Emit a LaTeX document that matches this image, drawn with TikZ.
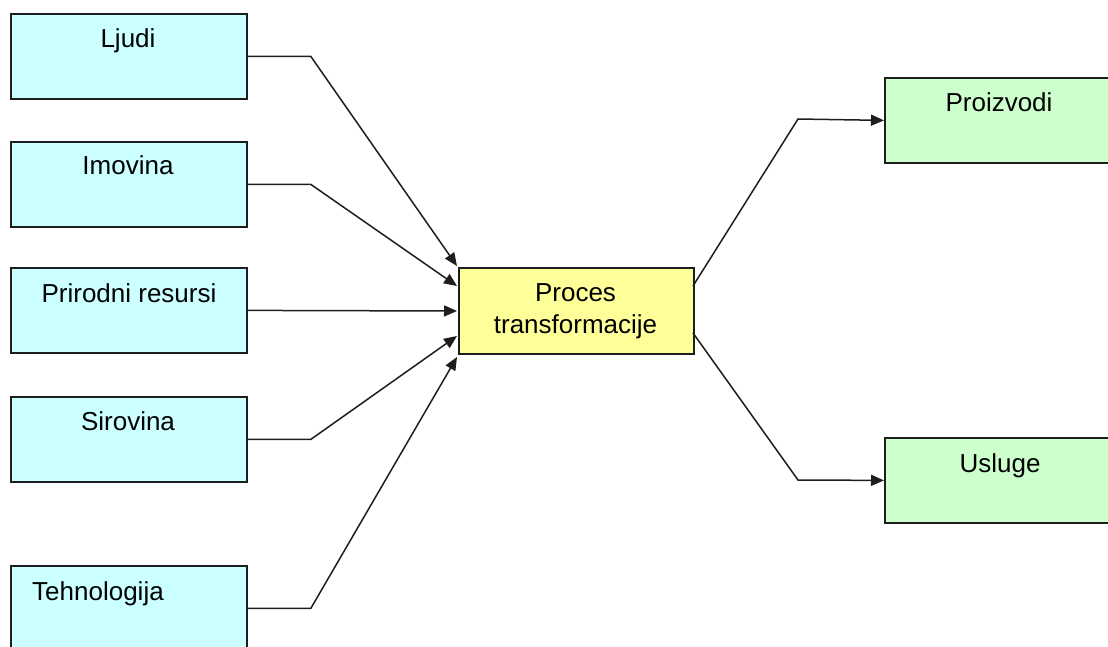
\documentclass[tikz,border=0pt]{standalone}
\usepackage{fontspec}
\setmainfont{Liberation Sans}
\usetikzlibrary{arrows.meta}
\definecolor{incol}{HTML}{CCFFFF}
\definecolor{proccol}{HTML}{FFFF99}
\definecolor{outcol}{HTML}{CCFFCC}
\definecolor{edgecol}{HTML}{1E1E1E}
\begin{document}
\begin{tikzpicture}[x=1pt,y=-1pt,
  box/.style={draw=edgecol,line width=1.8pt,inner sep=0pt,anchor=north west},
  inbox/.style={box,fill=incol,minimum width=236pt,minimum height=85pt},
  procbox/.style={box,fill=proccol,minimum width=235pt,minimum height=86pt},
  outbox/.style={box,fill=outcol,minimum width=232pt,minimum height=85pt},
  lbl/.style={anchor=base,font=\fontsize{26}{32}\selectfont,text=black,inner sep=0pt},
  conn/.style={draw=edgecol,line width=1.5pt,-{Triangle[length=13pt,width=11pt]}}]
\useasboundingbox (0,0) rectangle (1108,647);

% input boxes
\node[inbox] (ljudi) at (10,13) {};
\node[inbox] (imovina) at (10,141) {};
\node[inbox] (prirodni) at (10,267) {};
\node[inbox] (sirovina) at (10,396) {};
\node[inbox] (tehnologija) at (10,565) {};

\node[lbl] (tljudi) at (128,48) {Ljudi};
\node[lbl] (timovina) at (128,175) {Imovina};
\node[lbl] (tprirodni) at (129,302) {Prirodni resursi};
\node[lbl] (tsirovina) at (128,430) {Sirovina};
\node[lbl,anchor=base west] (ttehnologija) at (32,600) {Tehnologija};

% process box
\node[procbox] (proc) at (458,267) {};
\node[lbl] (tproc1) at (575.5,301) {Proces};
\node[lbl] (tproc2) at (575.5,333) {transformacije};

% output boxes
\node[outbox] (proizvodi) at (884,77) {};
\node[outbox] (usluge) at (884,437) {};
\node[lbl] (tproizvodi) at (999,112) {Proizvodi};
\node[lbl] (tusluge) at (1000,472) {Usluge};

% arrow end / bend coordinates
\coordinate (a1) at (457,266);
\coordinate (a2) at (457,286);
\coordinate (a3) at (457,311);
\coordinate (a4) at (457,336);
\coordinate (a5) at (457,357);
\coordinate (o1) at (693,286);
\coordinate (o2) at (693,333);

\draw[conn] (ljudi.east) -- ++(63,0) -- (a1);
\draw[conn] (imovina.east) -- ++(63,0) -- (a2);
\draw[conn] (prirodni.east) -- (a3);
\draw[conn] (sirovina.east) -- ++(63,0) -- (a4);
\draw[conn] (tehnologija.east) -- ++(63,0) -- (a5);

\draw[conn] (o1) -- (798,119) -- (proizvodi.west);
\draw[conn] (o2) -- (798,480) -- (usluge.west);
\end{tikzpicture}
\end{document}
